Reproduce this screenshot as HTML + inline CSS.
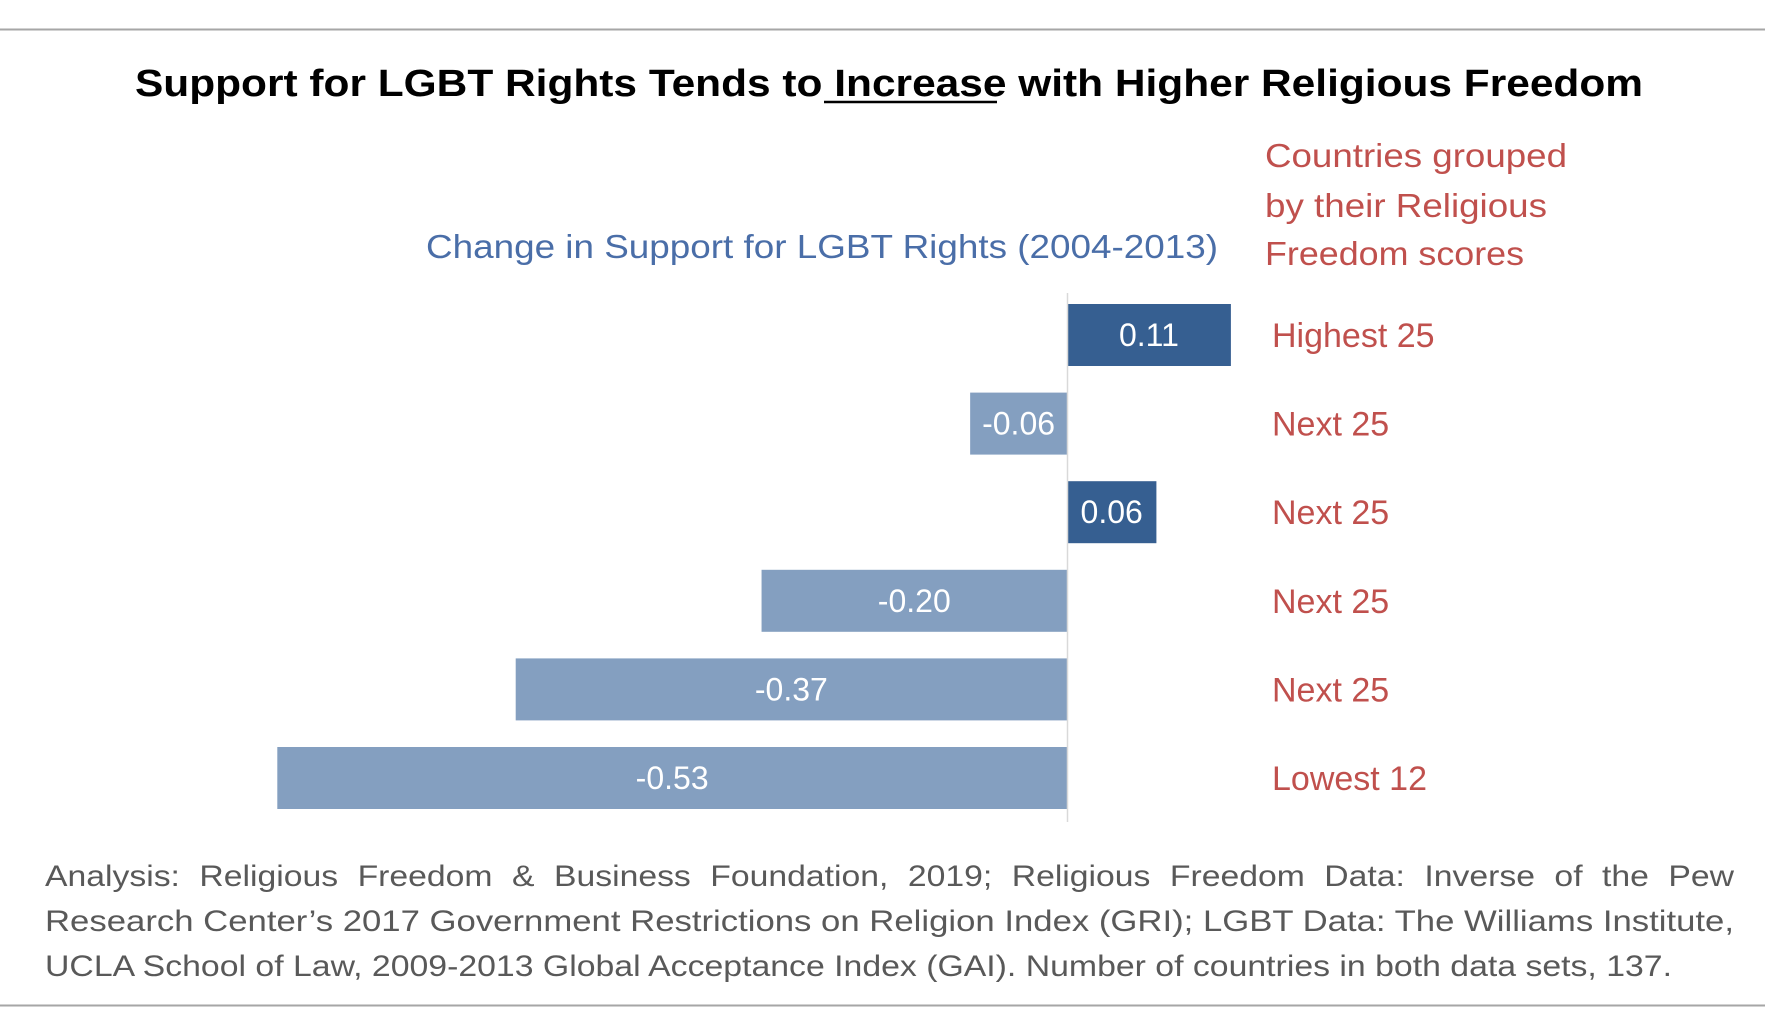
<!DOCTYPE html>
<html><head><meta charset="utf-8"><style>
html,body{margin:0;padding:0;background:#fff;}
svg{display:block;font-family:"Liberation Sans",sans-serif;}
</style></head><body>
<svg width="1765" height="1035" viewBox="0 0 1765 1035">
<line x1="0" y1="29.5" x2="1765" y2="29.5" stroke="#a6a6a6" stroke-width="2"/>
<line x1="0" y1="1005.5" x2="1765" y2="1005.5" stroke="#a6a6a6" stroke-width="2"/>
<text x="889" y="96" text-anchor="middle" font-size="38" font-weight="bold" fill="#000" textLength="1508" lengthAdjust="spacingAndGlyphs">Support for LGBT Rights Tends to Increase with Higher Religious Freedom</text>
<line x1="824" y1="102" x2="997" y2="102" stroke="#000" stroke-width="2.5"/>
<text x="1218" y="258" text-anchor="end" font-size="33" fill="#4a6ea8" textLength="792" lengthAdjust="spacingAndGlyphs">Change in Support for LGBT Rights (2004-2013)</text>
<g fill="#c0504d" font-size="33">
<text x="1265" y="167" textLength="302" lengthAdjust="spacingAndGlyphs">Countries grouped</text>
<text x="1265" y="217" textLength="282" lengthAdjust="spacingAndGlyphs">by their Religious</text>
<text x="1265" y="265" textLength="259" lengthAdjust="spacingAndGlyphs">Freedom scores</text>
</g>
<g id="bars"></g>
<line x1="1067.5" y1="293" x2="1067.5" y2="822" stroke="#d9d9d9" stroke-width="1.5"/>
<g fill="#595959" font-size="30">
<text x="45" y="886" word-spacing="9" textLength="1689" lengthAdjust="spacingAndGlyphs">Analysis: Religious Freedom &amp; Business Foundation, 2019; Religious Freedom Data: Inverse of the Pew</text>
<text x="45" y="931" textLength="1689" lengthAdjust="spacingAndGlyphs">Research Center’s 2017 Government Restrictions on Religion Index (GRI); LGBT Data: The Williams Institute,</text>
<text x="45" y="976" textLength="1627" lengthAdjust="spacingAndGlyphs">UCLA School of Law, 2009-2013 Global Acceptance Index (GAI). Number of countries in both data sets, 137.</text>
</g>
</svg>
<script>
const categories = ["Highest 25","Next 25","Next 25","Next 25","Next 25","Lowest 12"];
const values = [0.11,-0.065,0.06,-0.205,-0.37,-0.53];
const valueLabels = ["0.11","-0.06","0.06","-0.20","-0.37","-0.53"];
const zeroX = 1067, unit = 1490, top0 = 304, step = 88.6, barH = 62;
function xScale(v){ return zeroX + v*unit; }
function yScale(i){ return top0 + i*step; }
const NS="http://www.w3.org/2000/svg";
const g=document.getElementById('bars');
values.forEach((v,i)=>{
  const x0=Math.min(xScale(0),xScale(v)), w=Math.abs(xScale(v)-xScale(0));
  const r=document.createElementNS(NS,'rect');
  r.setAttribute('x',x0);r.setAttribute('y',yScale(i));r.setAttribute('width',w);r.setAttribute('height',barH);
  r.setAttribute('fill',v>=0?'#365f91':'#849fc0');
  
  
  g.appendChild(r);
  const t=document.createElementNS(NS,'text');
  t.setAttribute('x',x0+w/2);t.setAttribute('y',yScale(i)+barH/2+11);
  t.setAttribute('text-anchor','middle');t.setAttribute('font-size','32');t.setAttribute('fill','#fff');
  t.textContent=valueLabels[i];
  
  
  g.appendChild(t);
  const c=document.createElementNS(NS,'text');
  c.setAttribute('x',1272);c.setAttribute('y',yScale(i)+barH/2+12);
  c.setAttribute('font-size','34');c.setAttribute('fill','#c0504d');
  c.textContent=categories[i];
  
  
  g.appendChild(c);
});
</script>
</body></html>
